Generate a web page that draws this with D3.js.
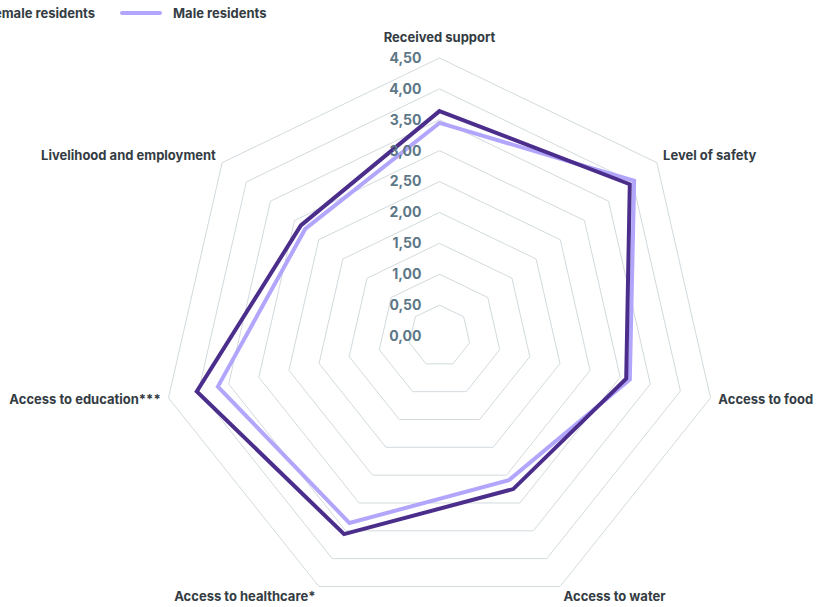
<!DOCTYPE html>
<html>
<head>
<meta charset="utf-8">
<title>Radar</title>
<script src="https://d3js.org/d3.v7.min.js"></script>
<style>
  body { margin: 0; background: #fff; }
  svg { display: block; font-family: Inter, "Open Sans", sans-serif; }
</style>
</head>
<body>
<svg id="chart" width="831" height="607"></svg>
<script>
// axes, clockwise from the top
var categories = ["Received support", "Level of safety", "Access to food", "Access to water",
                  "Access to healthcare*", "Access to education***", "Livelihood and employment"];
var seriesNames = ["Female residents", "Male residents"];
var femaleValues = [3.64, 3.94, 3.10, 2.75, 3.56, 4.03, 2.87];
var maleValues   = [3.45, 4.03, 3.16, 2.59, 3.36, 3.68, 2.78];
var tickValues = [0, 0.5, 1, 1.5, 2, 2.5, 3, 3.5, 4, 4.5];
var tickLabels = ["0,00", "0,50", "1,00", "1,50", "2,00", "2,50", "3,00", "3,50", "4,00", "4,50"];

var colors = ["#4b2e8c", "#b1a6fb"];

var svg = d3.select("#chart");
var cx = 439.5, cy = 336;
var r = d3.scaleLinear().domain([0, 4.5]).range([0, 278]);
var n = categories.length;
var angle = function(i) { return i * 2 * Math.PI / n; };
var pt = function(i, v) {
  return [cx + r(v) * Math.sin(angle(i)), cy - r(v) * Math.cos(angle(i))];
};

// grid rings
var ring = d3.line().curve(d3.curveLinearClosed);
svg.append("g").selectAll("path")
  .data(tickValues.filter(function(t) { return t > 0; }))
  .enter().append("path")
  .attr("d", function(t) { return ring(d3.range(n).map(function(i) { return pt(i, t); })); })
  .attr("fill", "none")
  .attr("stroke", "#d2dade")
  .attr("stroke-width", 1);

// series, male first so female sits on top
var series = [femaleValues, maleValues];
svg.append("g").selectAll("path")
  .data([1, 0])
  .enter().append("path")
  .attr("d", function(k) { return ring(series[k].map(function(v, i) { return pt(i, v); })); })
  .attr("fill", "none")
  .attr("stroke", function(k) { return colors[k]; })
  .attr("stroke-width", 4)
  .attr("stroke-linejoin", "miter");

// tick labels
svg.append("g").selectAll("text")
  .data(tickValues)
  .enter().append("text")
  .attr("x", cx - 18)
  .attr("y", function(t) { return cy - r(t); })
  .attr("dy", "0.35em")
  .attr("text-anchor", "end")
  .attr("fill", "#5d7787")
  .attr("font-size", 14)
  .attr("font-weight", 700)
  .text(function(t, i) { return tickLabels[i]; });

// axis labels
svg.append("g").selectAll("text")
  .data(categories)
  .enter().append("text")
  .attr("x", function(d, i) { return pt(i, 4.5)[0] + 8 * Math.sin(angle(i)); })
  .attr("y", function(d, i) {
    var c = Math.cos(angle(i));
    var y = pt(i, 4.5)[1] - 9 * c;
    if (c > 0.9) y -= 12;
    else if (c > 0) y -= 2;
    else if (c < -0.5) y += 2;
    return y;
  })
  .attr("dy", "0.35em")
  .attr("text-anchor", function(d, i) {
    var s = Math.sin(angle(i));
    return Math.abs(s) < 0.01 ? "middle" : (s > 0 ? "start" : "end");
  })
  .attr("fill", "#343c43")
  .attr("font-size", 13)
  .attr("font-weight", 700)
  .text(function(d) { return d; });

// legend
var legend = svg.append("g");
var lx = 0;
seriesNames.forEach(function(name, k) {
  legend.append("line")
    .attr("x1", lx).attr("x2", lx + 38)
    .attr("y1", 13).attr("y2", 13)
    .attr("stroke", colors[k])
    .attr("stroke-width", 4)
    .attr("stroke-linecap", "round");
  var t = legend.append("text")
    .attr("x", lx + 51).attr("y", 13)
    .attr("dy", "0.35em")
    .attr("fill", "#343c43")
    .attr("font-size", 13)
    .attr("font-weight", 700)
    .text(name);
  lx += 51 + t.node().getComputedTextLength() + 27;
});
// place so the second swatch begins where it does in the original
var firstWidth = legend.selectAll("text").nodes()[0].getComputedTextLength();
legend.attr("transform", "translate(" + (122 - (51 + firstWidth + 27)) + ",0)");
</script>
</body>
</html>
